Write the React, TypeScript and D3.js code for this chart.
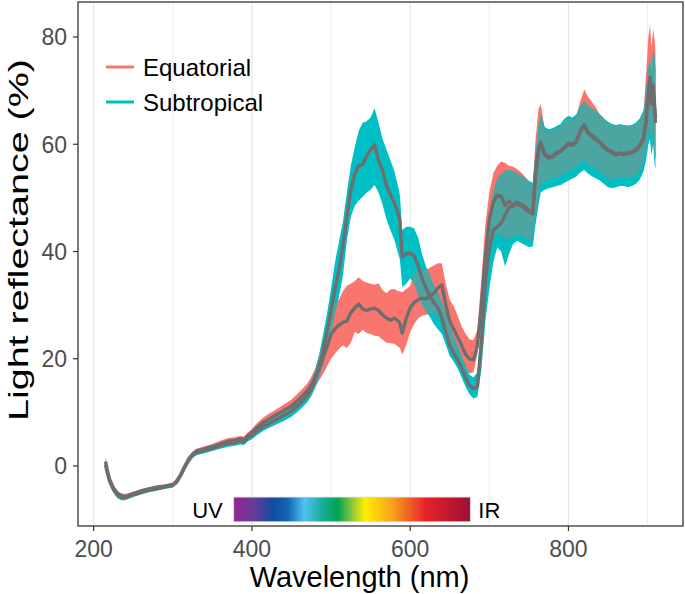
import React from 'react';
import * as d3 from 'd3';

const wavelengths = [
  215, 217, 220, 225, 230, 235, 240, 250, 260, 270,
  280, 290, 300, 305, 310, 315, 320, 325, 330, 340,
  350, 360, 370, 380, 385, 390, 395, 400, 405, 410,
  415, 420, 430, 440, 450, 460, 470, 475, 480, 485,
  490, 495, 500, 505, 510, 515, 520, 525, 530, 535,
  540, 545, 550, 555, 560, 565, 570, 575, 580, 585,
  587, 590, 595, 600, 605, 610, 615, 620, 625, 630,
  635, 640, 645, 650, 655, 660, 665, 670, 675, 680,
  685, 690, 695, 700, 705, 710, 715, 720, 725, 730,
  735, 740, 745, 750, 755, 758, 762, 765, 770, 775,
  780, 785, 790, 795, 800, 805, 810, 815, 820, 825,
  830, 835, 840, 845, 850, 855, 860, 865, 870, 875,
  880, 885, 890, 895, 898, 901, 903, 905, 907, 909,
  910,
];

const eqLow = [
  0.0, -1.3, -3.0, -4.6, -5.6, -6.1, -6.1, -5.6, -5.1, -4.7,
  -4.4, -4.2, -3.9, -3.2, -2.0, -0.6, 0.8, 1.7, 2.3, 2.7,
  3.1, 3.5, 3.9, 4.1, 4.4, 4.2, 5.0, 5.4, 6.2, 6.8,
  7.3, 7.7, 8.5, 9.2, 10.0, 11.2, 12.6, 13.6, 14.8, 16.0,
  17.2, 18.6, 20.0, 21.0, 21.8, 22.5, 22.0, 23.0, 25.0, 24.6,
  25.4, 24.8, 24.6, 24.3, 24.2, 23.6, 23.0, 22.9, 22.8, 22.2,
  22.0, 20.8, 22.5, 25.0, 26.5, 27.5, 28.0, 28.2, 28.4, 28.5,
  28.0, 27.0, 25.0, 22.5, 22.0, 21.0, 19.5, 18.0, 17.3, 17.5,
  21.0, 27.0, 34.0, 40.0, 42.4, 43.4, 43.0, 42.4, 42.4, 42.8,
  43.0, 43.2, 42.6, 42.0, 43.0, 46.0, 50.0, 52.6, 53.0, 53.5,
  53.8, 53.8, 54.0, 54.5, 55.0, 55.3, 55.8, 56.4, 57.0, 56.0,
  55.8, 55.4, 54.8, 54.2, 53.6, 53.4, 53.6, 53.8, 53.8, 53.6,
  53.8, 54.2, 55.0, 56.6, 59.0, 62.0, 63.0, 60.0, 62.0, 58.0,
  57.5,
];

const eqMean = [
  0.8, -0.6, -2.4, -4.1, -5.1, -5.6, -5.7, -5.2, -4.7, -4.3,
  -4.0, -3.8, -3.5, -2.8, -1.6, -0.1, 1.3, 2.2, 2.8, 3.2,
  3.6, 4.1, 4.6, 4.8, 5.1, 4.9, 5.7, 6.2, 7.0, 7.6,
  8.2, 8.6, 9.5, 10.3, 11.2, 12.5, 14.0, 15.1, 16.5, 18.3,
  20.2, 22.3, 24.5, 25.6, 26.3, 26.8, 27.0, 28.6, 29.5, 30.2,
  29.3, 29.0, 29.3, 29.4, 29.0, 28.2, 27.6, 27.2, 27.6, 27.0,
  26.5, 24.8, 27.5, 29.5, 30.5, 31.0, 31.3, 31.2, 31.7, 32.2,
  33.2, 33.8, 30.0, 27.0, 25.5, 24.0, 22.5, 20.8, 20.0, 19.8,
  22.5, 30.0, 39.0, 46.0, 49.2, 50.5, 50.3, 48.6, 49.4, 48.6,
  49.2, 48.8, 48.4, 47.6, 47.2, 54.0, 59.0, 60.4, 58.2, 57.6,
  57.8, 58.4, 58.8, 59.5, 60.2, 60.0, 60.6, 62.6, 63.6, 62.2,
  61.6, 61.0, 60.4, 59.6, 59.0, 58.6, 58.2, 58.4, 58.3, 58.4,
  58.6, 59.0, 59.8, 61.2, 64.5, 70.0, 72.5, 69.0, 71.0, 67.0,
  65.0,
];

const eqHigh = [
  1.8, 0.2, -1.7, -3.5, -4.6, -5.1, -5.2, -4.8, -4.3, -3.9,
  -3.6, -3.4, -3.1, -2.4, -1.2, 0.3, 1.7, 2.7, 3.2, 3.7,
  4.1, 4.7, 5.2, 5.4, 5.6, 5.5, 6.3, 6.9, 7.8, 8.5,
  9.1, 9.6, 10.5, 11.4, 12.4, 13.8, 15.4, 16.6, 18.2, 20.6,
  23.0, 26.2, 29.0, 30.4, 31.0, 32.6, 33.6, 34.0, 34.5, 35.2,
  34.5, 34.2, 34.0, 33.8, 34.1, 32.8, 32.2, 32.9, 33.0, 32.6,
  32.6, 32.4, 33.0, 33.5, 36.0, 36.3, 36.5, 36.5, 37.0, 37.4,
  37.8, 37.8, 34.0, 31.0, 29.8, 28.0, 26.0, 24.7, 23.6, 23.5,
  25.4, 35.0, 45.0, 51.0, 54.6, 56.0, 56.8, 56.5, 56.0, 55.8,
  55.4, 54.8, 54.0, 53.0, 52.6, 60.0, 66.5, 67.5, 62.8, 62.4,
  62.6, 63.0, 63.4, 64.3, 64.9, 64.6, 65.3, 68.0, 70.2, 68.8,
  67.8, 66.8, 65.4, 64.6, 64.0, 63.6, 63.4, 63.6, 63.4, 63.3,
  63.4, 63.8, 64.6, 66.2, 73.0, 80.0, 82.3, 78.0, 81.5, 79.4,
  77.0,
];

const stLow = [
  -0.6, -1.8, -3.4, -5.0, -6.0, -6.4, -6.4, -5.8, -5.3, -4.9,
  -4.6, -4.3, -4.0, -3.4, -2.2, -0.8, 0.6, 1.5, 2.0, 2.4,
  2.8, 3.2, 3.6, 3.8, 4.0, 3.9, 4.6, 5.0, 5.6, 6.1,
  6.6, 7.0, 7.7, 8.4, 9.2, 10.4, 11.9, 13.0, 14.6, 16.5,
  19.0, 21.8, 25.0, 28.5, 31.5, 35.5, 42.0, 46.5, 48.5, 49.5,
  50.2, 51.0, 51.5, 52.4, 51.0, 48.8, 46.0, 44.0, 42.2, 39.5,
  38.5, 33.4, 34.0, 35.0, 34.0, 32.0, 30.2, 28.8, 27.8, 26.5,
  25.5, 24.6, 22.6, 20.5, 19.5, 18.2, 16.5, 14.8, 13.4, 12.6,
  12.9, 18.0, 27.0, 33.0, 38.0, 40.8, 40.0, 37.2, 39.6, 41.4,
  42.0, 41.6, 41.2, 40.8, 41.0, 44.6, 48.4, 51.0, 51.5, 51.8,
  52.0, 52.2, 52.4, 52.8, 53.2, 53.6, 54.0, 54.8, 55.2, 54.5,
  54.0, 53.6, 53.2, 52.6, 52.0, 51.8, 52.0, 52.2, 52.2, 52.0,
  52.2, 52.6, 53.4, 55.0, 57.0, 60.0, 61.0, 58.0, 60.0, 56.0,
  55.5,
];

const stMean = [
  0.2, -1.1, -2.8, -4.4, -5.4, -5.9, -5.9, -5.4, -4.9, -4.5,
  -4.2, -3.9, -3.6, -3.0, -1.8, -0.3, 1.0, 2.0, 2.5, 2.9,
  3.3, 3.8, 4.2, 4.4, 4.7, 4.5, 5.3, 5.7, 6.4, 6.9,
  7.4, 7.8, 8.6, 9.4, 10.2, 11.5, 13.1, 14.3, 16.2, 18.5,
  21.5, 25.0, 29.0, 33.0, 36.5, 41.0, 46.5, 51.5, 54.5, 56.0,
  56.3, 57.8, 59.0, 59.9, 57.0, 55.2, 52.3, 50.6, 49.0, 47.0,
  45.5, 39.0, 39.5, 39.7, 39.2, 37.4, 35.0, 33.2, 31.6, 30.5,
  29.5, 27.6, 25.0, 22.5, 21.0, 19.8, 18.3, 16.5, 15.0, 14.4,
  14.8, 23.0, 34.5, 40.5, 44.0, 44.6, 45.3, 46.8, 48.2, 48.5,
  48.8, 48.6, 48.0, 47.4, 47.0, 53.5, 58.5, 60.2, 58.0, 57.4,
  57.6, 58.2, 58.6, 59.3, 60.0, 59.8, 60.4, 62.4, 63.4, 62.0,
  61.4, 60.8, 60.2, 59.4, 58.8, 58.4, 58.0, 58.2, 58.1, 58.2,
  58.4, 58.8, 59.6, 61.0, 64.0, 69.0, 71.0, 67.5, 70.5, 66.0,
  64.0,
];

const stHigh = [
  0.9, -0.4, -2.1, -3.8, -4.9, -5.3, -5.4, -4.9, -4.4, -4.0,
  -3.7, -3.5, -3.2, -2.6, -1.4, 0.1, 1.5, 2.5, 3.0, 3.4,
  3.8, 4.3, 4.8, 5.0, 5.3, 5.1, 5.9, 6.4, 7.1, 7.7,
  8.2, 8.7, 9.5, 10.3, 11.2, 12.6, 14.4, 15.7, 17.9, 20.8,
  24.5, 28.5, 33.0, 38.0, 41.8, 45.5, 51.0, 56.0, 59.5, 62.5,
  64.0, 64.3, 65.0, 66.7, 64.0, 61.0, 59.0, 57.0, 55.0, 52.0,
  50.5, 44.0, 44.6, 44.6, 44.3, 42.6, 39.5, 37.2, 35.5, 33.6,
  32.4, 30.5, 28.4, 26.0, 24.2, 22.5, 20.5, 18.8, 17.0, 16.5,
  17.5, 27.5, 40.0, 47.0, 51.0, 53.5, 54.5, 55.0, 55.2, 55.0,
  54.6, 54.2, 53.8, 53.2, 52.8, 58.0, 63.0, 65.5, 63.2, 62.8,
  63.0, 63.4, 63.8, 64.8, 65.3, 65.0, 65.6, 67.0, 68.0, 67.2,
  66.6, 66.2, 65.6, 64.8, 64.2, 63.8, 63.6, 63.8, 63.6, 63.5,
  63.6, 64.0, 64.8, 66.4, 69.5, 74.5, 75.5, 73.5, 77.5, 76.0,
  74.0,
];

const groups = ['Equatorial', 'Subtropical'];
const groupColors = ['#F8766D', '#00BFC4'];
const overlapColor = '#4DA5A2';
const meanColor = '#6E6E6E';

const xTicks = [200, 400, 600, 800];
const xMinorTicks = [300, 500, 700, 900];
const yTicks = [0, 20, 40, 60, 80];

const spectrumNm = [377, 676];
const spectrumVal = [-10.4, -5.8];
const spectrumStops: [number, string][] = [
  [0, '#93278F'],
  [0.08, '#6A3A98'],
  [0.17, '#0D4EA0'],
  [0.23, '#1565B5'],
  [0.30, '#4FC3F0'],
  [0.37, '#1BAE9E'],
  [0.44, '#00A34F'],
  [0.50, '#8DC63F'],
  [0.555, '#FFEF00'],
  [0.67, '#F7A21B'],
  [0.81, '#E8222B'],
  [1, '#9C0F35'],
];

const FONT = "'Liberation Sans', Arial, Helvetica, sans-serif";

export default function App() {
  const W = 685;
  const H = 594;
  const left = 78, right = 683, top = 2, bottom = 526;

  const x = d3.scaleLinear().domain([180.25, 944.75]).range([left, right]);
  const y = d3.scaleLinear().domain([-11.19, 86.53]).range([bottom, top]);
  const idx = d3.range(wavelengths.length);

  const areaPath = (lo: number[], hi: number[]) =>
    d3.area<number>()
      .x((i) => x(wavelengths[i]))
      .y0((i) => y(lo[i]))
      .y1((i) => y(hi[i]))(idx) || '';
  const linePath = (v: number[]) =>
    d3.line<number>()
      .x((i) => x(wavelengths[i]))
      .y((i) => y(v[i]))(idx) || '';

  const eqArea = areaPath(eqLow, eqHigh);
  const stArea = areaPath(stLow, stHigh);

  return (
    <svg width={W} height={H} style={{ position: 'absolute', left: 0, top: 0, background: '#fff' }}
      fontFamily={FONT}>
      <defs>
        <clipPath id="panelClip">
          <rect x={left} y={top} width={right - left} height={bottom - top} />
        </clipPath>
        <clipPath id="eqClip">
          <path d={eqArea} />
        </clipPath>
        <linearGradient id="spectrum" x1="0" x2="1" y1="0" y2="0">
          {spectrumStops.map(([o, c], i) => (
            <stop key={i} offset={o} stopColor={c} />
          ))}
        </linearGradient>
      </defs>
      <rect x={0} y={0} width={W} height={H} fill="#fff" />
      <g clipPath="url(#panelClip)">
        {xMinorTicks.map((t) => (
          <line key={'m' + t} x1={x(t)} x2={x(t)} y1={top} y2={bottom} stroke="#EDEDED" strokeWidth={1} />
        ))}
        {xTicks.map((t) => (
          <line key={'M' + t} x1={x(t)} x2={x(t)} y1={top} y2={bottom} stroke="#E6E6E6" strokeWidth={1.2} />
        ))}
        <path d={eqArea} fill={groupColors[0]} />
        <path d={stArea} fill={groupColors[1]} />
        <path d={stArea} fill={overlapColor} clipPath="url(#eqClip)" />
        <path d={linePath(eqMean)} fill="none" stroke={meanColor} strokeWidth={3.4} strokeLinejoin="round" />
        <path d={linePath(stMean)} fill="none" stroke={meanColor} strokeWidth={3.4} strokeLinejoin="round" />
        <rect x={x(spectrumNm[0])} y={y(spectrumVal[1])} width={x(spectrumNm[1]) - x(spectrumNm[0])}
          height={y(spectrumVal[0]) - y(spectrumVal[1])} fill="url(#spectrum)" stroke="#D9D9D9" strokeWidth={0.8} />
      </g>
      <text x={x(spectrumNm[0]) - 11} y={y(spectrumVal[0]) - 4} fontSize={22} textAnchor="end" fill="#000">UV</text>
      <text x={x(spectrumNm[1]) + 8} y={y(spectrumVal[0]) - 4} fontSize={22} textAnchor="start" fill="#000">IR</text>

      {groups.map((g, i) => (
        <g key={g}>
          <line x1={106} x2={134} y1={67 + i * 35} y2={67 + i * 35} stroke={groupColors[i]} strokeWidth={3} />
          <text x={143} y={75.5 + i * 35} fontSize={24} fill="#000">{g}</text>
        </g>
      ))}

      <rect x={left} y={top} width={right - left} height={bottom - top} fill="none" stroke="#333333" strokeWidth={1.3} />

      {yTicks.map((t) => (
        <g key={'y' + t}>
          <line x1={left - 5} x2={left} y1={y(t)} y2={y(t)} stroke="#333333" strokeWidth={1.2} />
          <text x={left - 11} y={y(t)} dy="0.36em" fontSize={23} textAnchor="end" fill="#4D4D4D">{t}</text>
        </g>
      ))}
      {xTicks.map((t) => (
        <g key={'x' + t}>
          <line x1={x(t)} x2={x(t)} y1={bottom} y2={bottom + 5} stroke="#333333" strokeWidth={1.2} />
          <text x={x(t)} y={bottom + 31} fontSize={23} textAnchor="middle" fill="#4D4D4D">{t}</text>
        </g>
      ))}
      <text x={359.5} y={587} fontSize={29} textAnchor="middle" fill="#000">Wavelength (nm)</text>
      <text transform={`translate(28, 240) rotate(-90)`} fontSize={28} textAnchor="middle" fill="#000"
        textLength={362} lengthAdjust="spacingAndGlyphs">
        Light reflectance (%)
      </text>
    </svg>
  );
}
